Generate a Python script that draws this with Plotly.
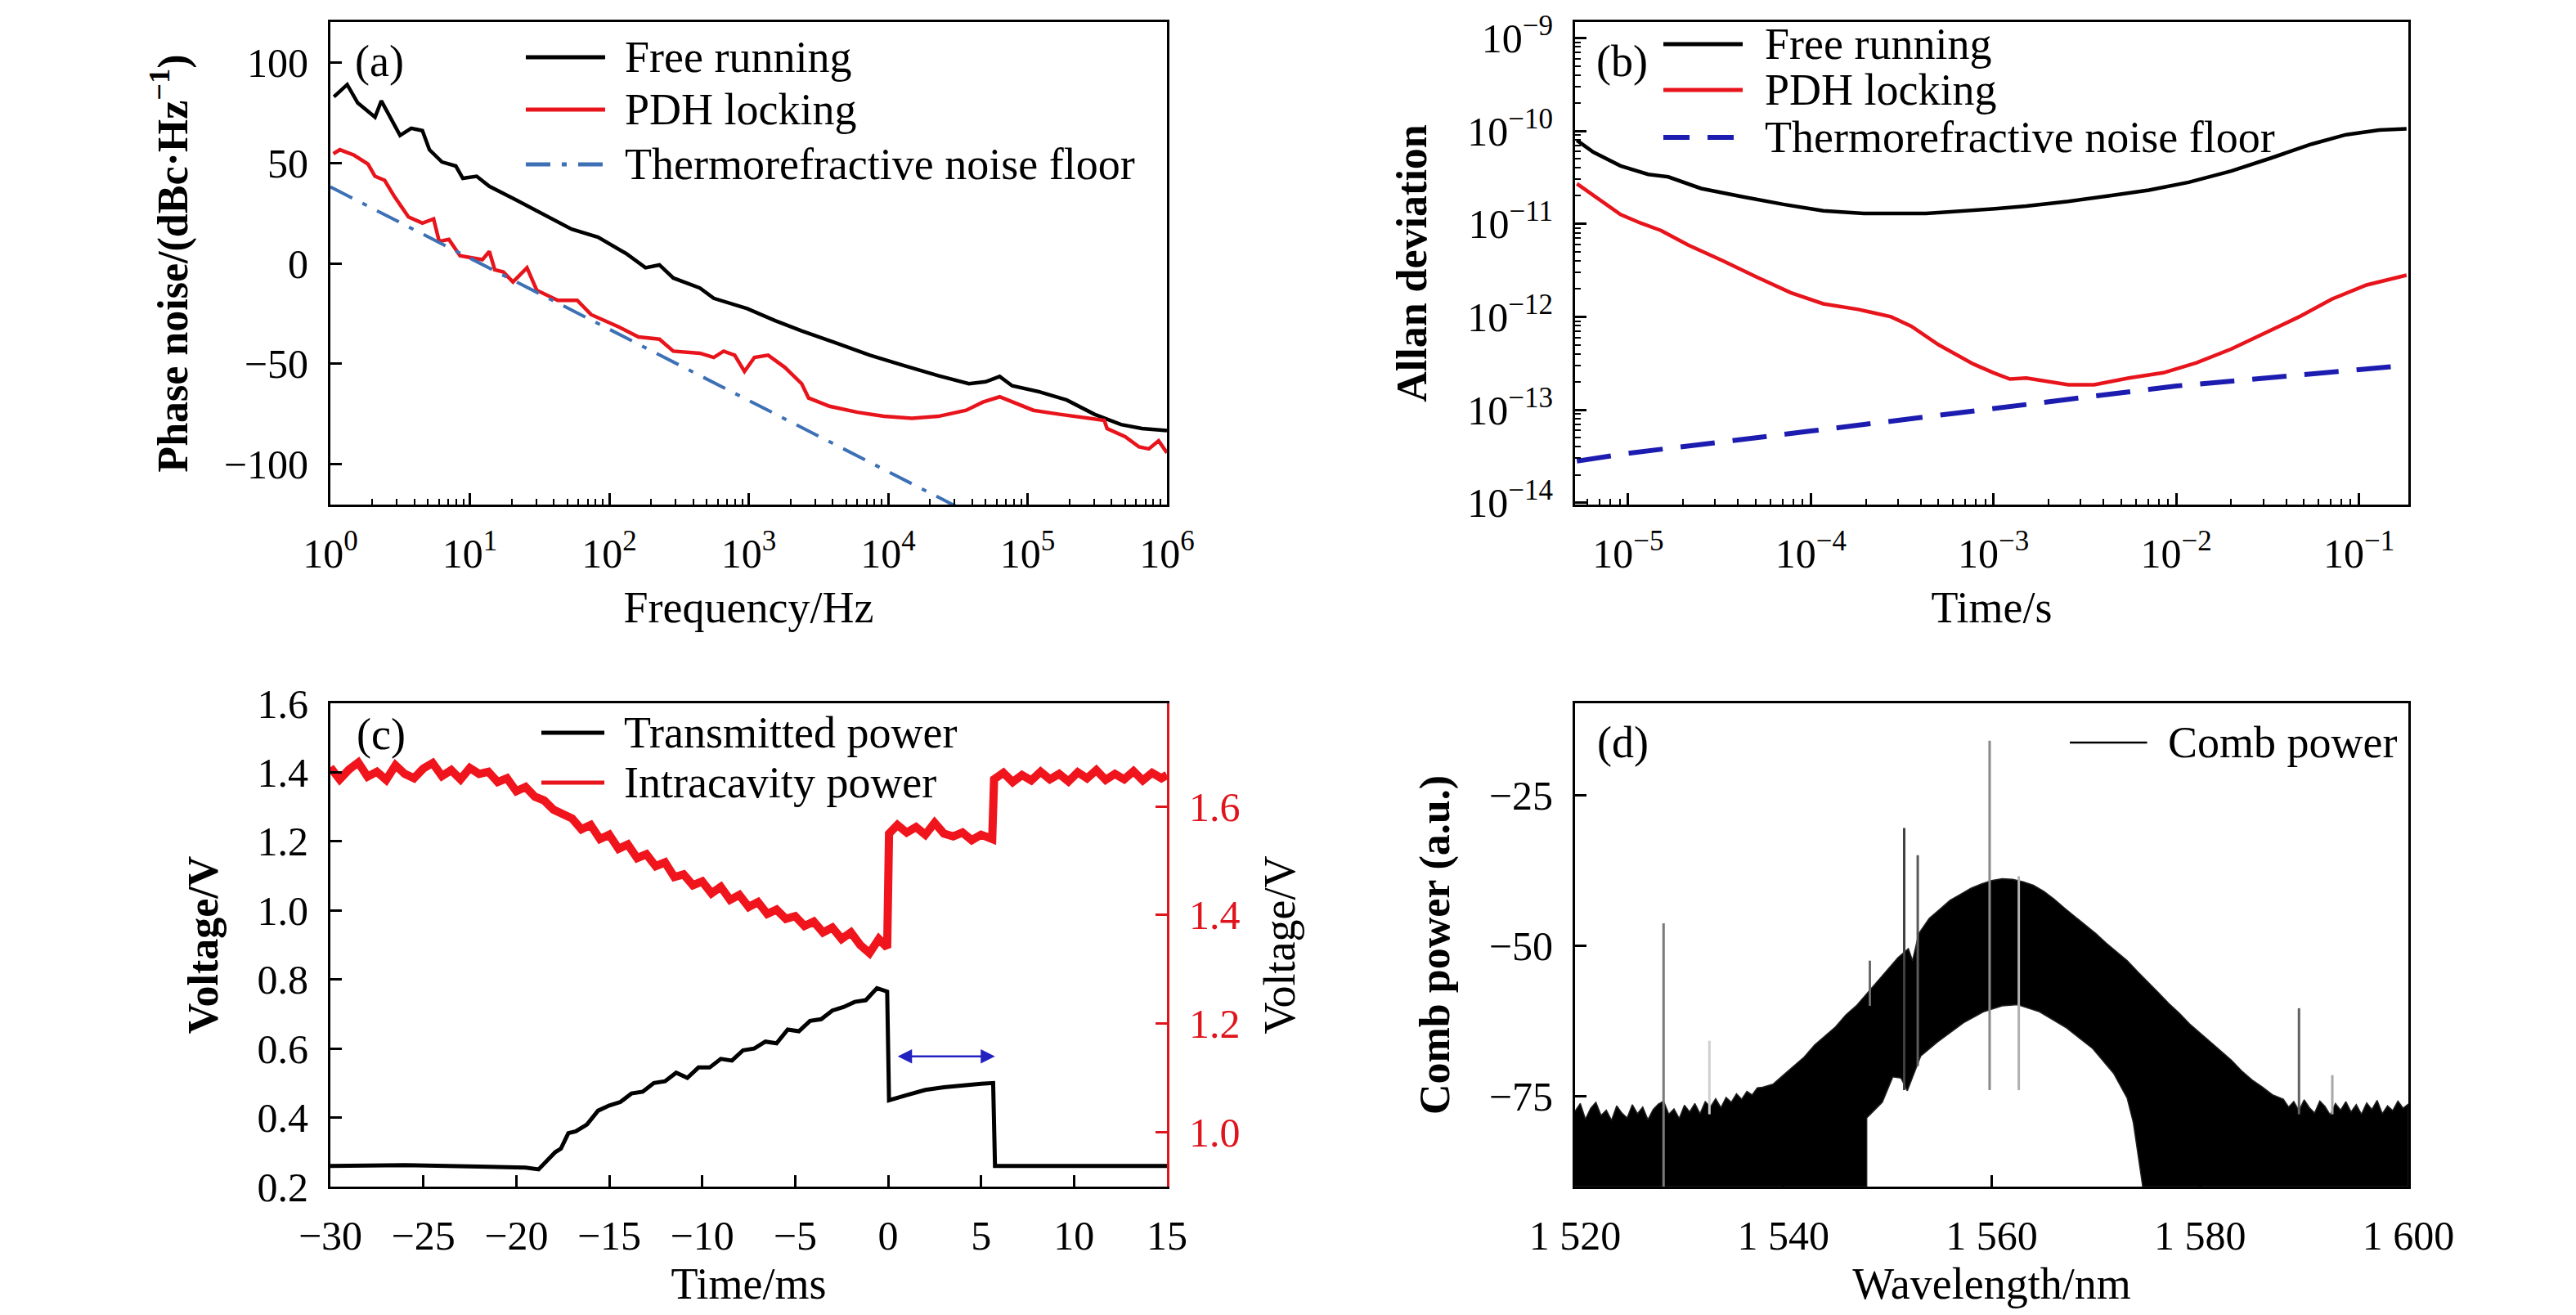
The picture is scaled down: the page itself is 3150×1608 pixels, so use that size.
import plotly.graph_objects as go

FONT = 'Liberation Serif'
W, H = 3134, 1592          # page body adds an 8 px margin around the figure

# ---------------- (a) phase noise ----------------
freq_free = [1.06, 1.32, 1.57, 2.09, 2.32, 2.75, 3.16, 3.80, 4.57, 5.13, 6.31, 7.94, 8.91,
             11.2, 13.8, 21.9, 33.9, 53.7, 83.2, 105, 132, 182, 229, 288, 447, 562, 977,
             1550, 2400, 4270, 7410, 12900, 22900, 38000, 50100, 63100, 77600, 123000,
             191000, 302000, 468000, 661000, 1000000]
pn_free = [82.8, 88.9, 79.8, 72.7, 80.8, 71.7, 63.6, 67.2, 66.0, 56.5, 50.4, 48.4, 42.3,
           43.3, 38.3, 31.2, 24.1, 17.0, 13.0, 8.9, 4.9, -2.2, -0.8, -7.3, -12.3, -17.4,
           -22.5, -28.5, -33.6, -39.7, -45.7, -50.8, -55.9, -59.9, -58.9, -56.3, -60.9,
           -64.0, -68.0, -75.1, -80.2, -82.2, -83.2]

freq_pdh = [1.05, 1.17, 1.48, 1.86, 2.09, 2.45, 2.88, 3.63, 4.57, 5.50, 6.03, 7.08, 8.51,
            10.5, 12.3, 13.8, 15.1, 17.4, 20.4, 25.7, 30.2, 42.7, 58.9, 74.1, 117, 162,
            229, 288, 447, 562, 661, 794, 933, 1100, 1380, 1820, 2400, 2690, 3800, 6030,
            9330, 14800, 22900, 36300, 47900, 63100, 77600, 110000, 170000, 269000,
            355000, 372000, 501000, 631000, 741000, 871000, 1000000]
pn_pdh = [54.5, 56.5, 53.8, 49.4, 43.3, 41.3, 33.2, 23.1, 20.0, 22.1, 10.9, 11.9, 3.8,
          2.8, 1.8, 5.9, -3.2, -4.3, -9.3, -2.2, -13.4, -18.4, -18.4, -25.5, -31.6, -36.6,
          -37.7, -43.7, -44.7, -46.8, -43.7, -45.7, -53.8, -46.8, -45.7, -51.8, -59.9,
          -67.0, -71.1, -74.1, -76.1, -77.1, -76.1, -73.1, -69.0, -66.4, -69.0, -73.1,
          -75.1, -77.1, -78.1, -82.2, -86.2, -91.3, -92.3, -88.3, -94.3]

freq_trn = [1, 10, 100, 1000, 10000, 100000]
pn_trn = [38.0, 2.6, -32.8, -68.2, -103.6, -139.0]

# ---------------- (b) Allan deviation ----------------
tau_free = [5.25e-6, 6.46e-6, 9.1e-6, 1.29e-5, 1.66e-5, 2.51e-5, 4.27e-5, 7.08e-5, 1.17e-4,
            1.95e-4, 4.27e-4, 6.46e-4, 1.02e-3, 1.51e-3, 2.57e-3, 4.27e-3, 7.08e-3,
            1.17e-2, 2.0e-2, 3.3e-2, 5.5e-2, 8.5e-2, 0.129, 0.182]
adev_free = [7.9e-11, 5.9e-11, 4.2e-11, 3.4e-11, 3.2e-11, 2.4e-11, 1.95e-11, 1.62e-11,
             1.38e-11, 1.29e-11, 1.29e-11, 1.35e-11, 1.45e-11, 1.55e-11, 1.74e-11, 2.0e-11,
             2.3e-11, 2.8e-11, 3.7e-11, 5.1e-11, 7.2e-11, 9.1e-11, 1.02e-10, 1.05e-10]

tau_pdh = [5.25e-6, 7.08e-6, 9.1e-6, 1.17e-5, 1.51e-5, 2.14e-5, 3.31e-5, 5.0e-5, 7.76e-5,
           1.17e-4, 1.82e-4, 2.75e-4, 3.55e-4, 5.0e-4, 7.76e-4, 1.0e-3, 1.23e-3, 1.51e-3,
           2.0e-3, 2.57e-3, 3.55e-3, 5.5e-3, 8.5e-3, 1.29e-2, 2.0e-2, 3.0e-2, 4.7e-2,
           7.1e-2, 0.11, 0.182]
adev_pdh = [2.7e-11, 1.78e-11, 1.26e-11, 1.02e-11, 8.5e-12, 5.9e-12, 4.0e-12, 2.7e-12,
            1.82e-12, 1.38e-12, 1.2e-12, 1.0e-12, 7.9e-13, 5.0e-13, 3.1e-13, 2.5e-13,
            2.14e-13, 2.19e-13, 2.0e-13, 1.86e-13, 1.86e-13, 2.19e-13, 2.5e-13, 3.2e-13,
            4.5e-13, 6.6e-13, 1.0e-12, 1.55e-12, 2.2e-12, 2.8e-12]

tau_trn = [5.25e-6, 1e-5, 1e-4, 1e-3, 1e-2, 0.182]
adev_trn = [2.8e-14, 3.4e-14, 5.9e-14, 1.02e-13, 1.8e-13, 3.0e-13]

# ---------------- (c) transmitted / intracavity power ----------------
t_trans = [-30, -26, -22, -19.5, -18.8, -18.3, -17.9, -17.6, -17.2, -16.8, -16.2, -15.6,
           -15.0, -14.4, -13.8, -13.2, -12.6, -12.0, -11.4, -10.8, -10.2, -9.6, -9.0, -8.4,
           -7.8, -7.2, -6.6, -6.0, -5.4, -4.8, -4.2, -3.6, -3.0, -2.4, -1.8, -1.2, -0.6,
           -0.05, 0.05, 1.0, 2.0, 3.0, 4.0, 5.0, 5.65, 5.75, 10, 15]
v_trans = [0.26, 0.262, 0.258, 0.255, 0.25, 0.28, 0.30, 0.31, 0.355, 0.36, 0.38, 0.42,
           0.435, 0.445, 0.47, 0.475, 0.50, 0.505, 0.53, 0.515, 0.545, 0.545, 0.57, 0.565,
           0.595, 0.60, 0.62, 0.615, 0.655, 0.65, 0.68, 0.685, 0.71, 0.72, 0.735, 0.74,
           0.775, 0.765, 0.45, 0.465, 0.48, 0.488, 0.494, 0.498, 0.50, 0.26, 0.26, 0.26]

t_intra = [-30, -29.5, -29, -28.5, -28, -27.5, -27, -26.5, -26, -25.5, -25, -24.5, -24,
           -23.5, -23, -22.5, -22, -21.5, -21, -20.5, -20, -19.5, -19, -18.5, -18, -17.5,
           -17, -16.5, -16, -15.5, -15, -14.5, -14, -13.5, -13, -12.5, -12, -11.5, -11,
           -10.5, -10, -9.5, -9, -8.5, -8, -7.5, -7, -6.5, -6, -5.5, -5, -4.5, -4, -3.5,
           -3, -2.5, -2, -1.5, -1, -0.5, -0.05, 0.05, 0.5, 1, 1.5, 2, 2.5, 3, 3.5, 4, 4.5,
           5, 5.6, 5.7, 6.2, 6.7, 7.2, 7.7, 8.2, 8.7, 9.2, 9.7, 10.2, 10.7, 11.2, 11.7,
           12.2, 12.7, 13.2, 13.7, 14.2, 14.7, 15]
v_intra = [1.672, 1.650, 1.668, 1.681, 1.655, 1.664, 1.649, 1.676, 1.660, 1.652, 1.670,
           1.680, 1.656, 1.667, 1.650, 1.671, 1.660, 1.664, 1.645, 1.652, 1.628, 1.636,
           1.618, 1.611, 1.594, 1.586, 1.578, 1.558, 1.566, 1.540, 1.548, 1.522, 1.530,
           1.505, 1.512, 1.490, 1.497, 1.470, 1.475, 1.455, 1.462, 1.440, 1.452, 1.428,
           1.437, 1.415, 1.424, 1.402, 1.410, 1.393, 1.398, 1.380, 1.388, 1.368, 1.377,
           1.356, 1.368, 1.345, 1.330, 1.356, 1.340, 1.550, 1.566, 1.552, 1.562, 1.548,
           1.570, 1.550, 1.545, 1.552, 1.538, 1.548, 1.540, 1.650, 1.662, 1.645, 1.658,
           1.648, 1.664, 1.650, 1.660, 1.646, 1.663, 1.652, 1.667, 1.649, 1.660, 1.650,
           1.665, 1.648, 1.662, 1.652, 1.658]

arrow_t = [0.45, 5.75]
arrow_v = 0.577

# ---------------- (d) comb spectrum ----------------
wl_top = [1520, 1520.5, 1521, 1521.5, 1522, 1522.5, 1523, 1523.5, 1524, 1524.5, 1525,
          1525.5, 1526, 1526.5, 1527, 1527.5, 1528, 1528.5, 1529, 1529.5, 1530, 1530.5,
          1531, 1531.5, 1532, 1532.5, 1533, 1533.5, 1534, 1534.5, 1535, 1535.5, 1536,
          1536.5, 1537, 1537.5, 1538, 1539, 1540, 1541, 1542, 1543, 1544, 1545, 1546,
          1547, 1548, 1549, 1550, 1551, 1552, 1552.4, 1553, 1554, 1555, 1556, 1557, 1558,
          1559, 1560, 1561, 1562, 1563, 1564, 1565, 1566, 1567, 1568, 1569, 1570, 1571,
          1572, 1573, 1574, 1575, 1576, 1577, 1578, 1579, 1580, 1581, 1582, 1583, 1584,
          1585, 1586, 1587, 1588, 1588.5, 1589, 1589.5, 1590, 1590.5, 1591, 1591.5, 1592,
          1592.5, 1593, 1593.5, 1594, 1594.5, 1595, 1595.5, 1596, 1596.5, 1597, 1597.5,
          1598, 1598.5, 1599, 1599.5, 1600]
p_top = [-77.5, -76.2, -78.8, -77.0, -76.0, -78.2, -77.3, -79.0, -76.6, -77.8, -78.6,
         -76.4, -77.9, -76.8, -78.9, -77.2, -76.3, -75.8, -78.0, -77.1, -78.7, -76.5, -77.6,
         -76.2, -77.9, -75.9, -76.8, -75.4, -76.9, -75.2, -76.0, -74.6, -75.5, -74.2, -74.8,
         -73.6, -73.5, -73, -71.5, -70, -68.5, -66.5, -65, -63.5, -61.5, -60, -58, -56,
         -54, -52, -50.5, -52.5, -48, -45.5, -44, -42.5, -41.5, -40.5, -39.8, -39.2, -38.9,
         -39, -39.4, -40, -41, -42.3, -43.8, -45.2, -46.6, -48, -49.6, -51, -52.5, -54.3,
         -56, -57.8, -59.6, -61.2, -63, -64.5, -66, -67.6, -69, -70.8, -72.3, -73.5, -74.8,
         -75.5, -76.8, -75.9, -77.4, -75.6, -76.9, -77.8, -75.8, -76.7, -78.1, -76.2, -77.3,
         -75.9, -77.6, -76.4, -78.0, -76.1, -77.2, -75.7, -77.9, -76.6, -77.4, -75.8, -77.0,
         -76.3]

# upper edge of the empty region under the comb, left to right
wl_hole = [1548.0, 1548.0, 1549.5, 1550.5, 1551.3, 1551.9, 1553.2, 1554.8, 1557.3, 1559.2,
           1561.0, 1562.5, 1564.6, 1567.2, 1569.7, 1571.7, 1573.0, 1573.6, 1574.5]
p_hole = [-90, -78.6, -76, -71.8, -72, -74.1, -68.3, -66, -62.8, -61, -60, -59.8, -61,
          -63.7, -67.1, -71.2, -75.3, -79.4, -90]

spike_wl = [1528.5, 1532.9, 1548.3, 1551.6, 1552.9, 1559.8, 1562.6, 1589.5, 1592.7]
spike_top = [-46.3, -65.8, -52.5, -30.5, -35.0, -16.0, -38.5, -60.4, -71.5]
spike_bottom = [-90, -78, -60, -74, -70, -74, -74, -78, -78]
spike_color = ['#7a7a7a', '#d0d0d0', '#6a6a6a', '#404040', '#5a5a5a', '#8a8a8a',
               '#b0b0b0', '#606060', '#a8a8a8']

RED = '#e8141c'


def px_x(px):
    return (px - 8) / W


def px_y(py):
    return 1 - (py - 8) / H


tick_font = dict(family=FONT, size=50, color='black')
title_font = dict(family=FONT, size=54, color='black')
bold_font = dict(family=FONT, size=52, color='black')


def frame_axis(**kw):
    base = dict(showline=True, linecolor='black', linewidth=3, mirror=True,
                ticks='inside', ticklen=14, tickwidth=3, tickcolor='black',
                showgrid=False, zeroline=False, tickfont=tick_font, automargin=False,
                ticklabelstandoff=14)
    base.update(kw)
    return base


def decade_minors(lo, hi):
    return [m * 10.0 ** k for k in range(lo, hi) for m in range(2, 10)]


def sup(v):
    return '10<sup>' + str(v).replace('-', '\u2212') + '</sup>'


fig = go.Figure()

# (a)
fig.add_trace(go.Scatter(x=freq_free, y=pn_free, mode='lines', name='Free running',
                         line=dict(color='black', width=4.5), xaxis='x', yaxis='y'))
fig.add_trace(go.Scatter(x=freq_pdh, y=pn_pdh, mode='lines', name='PDH locking',
                         line=dict(color=RED, width=4.5), xaxis='x', yaxis='y'))
fig.add_trace(go.Scatter(x=freq_trn, y=pn_trn, mode='lines', name='Thermorefractive noise floor',
                         line=dict(color='#3d70b5', width=4, dash='30px,14px,6px,14px'),
                         xaxis='x', yaxis='y'))

# (b)
fig.add_trace(go.Scatter(x=tau_free, y=adev_free, mode='lines', name='Free running',
                         line=dict(color='black', width=4.5), xaxis='x2', yaxis='y2'))
fig.add_trace(go.Scatter(x=tau_pdh, y=adev_pdh, mode='lines', name='PDH locking',
                         line=dict(color=RED, width=4.5), xaxis='x2', yaxis='y2'))
fig.add_trace(go.Scatter(x=tau_trn, y=adev_trn, mode='lines', name='Thermorefractive noise floor',
                         line=dict(color='#1c1cb0', width=6, dash='42px,22px'),
                         xaxis='x2', yaxis='y2'))

# (c)
fig.add_trace(go.Scatter(x=t_trans, y=v_trans, mode='lines', name='Transmitted power',
                         line=dict(color='black', width=5), xaxis='x3', yaxis='y3'))
fig.add_trace(go.Scatter(x=t_intra, y=v_intra, mode='lines', name='Intracavity power',
                         line=dict(color='#f0141c', width=10), xaxis='x3', yaxis='y5'))

# (d)
band_x = wl_top + [1600] + wl_hole[::-1] + [1520]
band_y = p_top + [-90] + p_hole[::-1] + [-90]
fig.add_trace(go.Scatter(x=band_x, y=band_y, mode='lines', fill='toself',
                         fillcolor='black', line=dict(color='#202020', width=1.5),
                         name='Comb power', xaxis='x4', yaxis='y4'))
for wl, top, bot, col in zip(spike_wl, spike_top, spike_bottom, spike_color):
    fig.add_trace(go.Scatter(x=[wl, wl], y=[bot, top], mode='lines',
                             line=dict(color=col, width=3), xaxis='x4', yaxis='y4'))

a_dom_x = [px_x(404), px_x(1427)]
b_dom_x = [px_x(1926), px_x(2945)]
top_dom_y = [px_y(617), px_y(27)]
bot_dom_y = [px_y(1451), px_y(860)]

fig.update_layout(
    width=W, height=H,
    margin=dict(l=0, r=0, t=0, b=0),
    paper_bgcolor='white', plot_bgcolor='white',
    showlegend=False,
    font=dict(family=FONT, color='black'),
    xaxis=frame_axis(domain=a_dom_x, anchor='y', type='log', range=[0, 6],
                     tickvals=[10 ** k for k in range(7)],
                     ticktext=[sup(k) for k in range(7)],
                     minor=dict(ticks='inside', ticklen=7, tickwidth=2, tickcolor='black',
                                tickvals=decade_minors(0, 6)),
                     title=dict(text='Frequency/Hz', font=title_font, standoff=20)),
    yaxis=frame_axis(domain=top_dom_y, anchor='x', range=[-120, 120],
                     tickvals=[-100, -50, 0, 50, 100],
                     title=dict(text='<b>Phase noise/(dBc·Hz<sup>\u22121</sup>)</b>',
                                font=bold_font, standoff=28)),
    xaxis2=frame_axis(domain=b_dom_x, anchor='y2', type='log', range=[-5.29, -0.73],
                      tickvals=[10.0 ** k for k in range(-5, 0)],
                      ticktext=[sup(k) for k in range(-5, 0)],
                      minor=dict(ticks='inside', ticklen=7, tickwidth=2, tickcolor='black',
                                 tickvals=decade_minors(-6, 0)),
                      title=dict(text='Time/s', font=title_font, standoff=20)),
    yaxis2=frame_axis(domain=top_dom_y, anchor='x2', type='log', range=[-14.02, -8.83],
                      tickvals=[10.0 ** k for k in range(-14, -8)],
                      ticktext=[sup(k) for k in range(-14, -8)],
                      minor=dict(ticks='inside', ticklen=7, tickwidth=2, tickcolor='black',
                                 tickvals=decade_minors(-15, -8)),
                      title=dict(text='<b>Allan deviation</b>', font=bold_font, standoff=34)),
    xaxis3=frame_axis(domain=a_dom_x, anchor='y3', range=[-30, 15], dtick=5,
                      title=dict(text='Time/ms', font=title_font, standoff=22)),
    yaxis3=frame_axis(domain=bot_dom_y, anchor='x3', range=[0.2, 1.6], dtick=0.2,
                      tickformat='.1f', mirror=False,
                      title=dict(text='<b>Voltage/V</b>', font=bold_font, standoff=32)),
    yaxis5=frame_axis(domain=bot_dom_y, anchor='x3', overlaying='y3', side='right',
                      range=[0.90, 1.79], tickvals=[1.0, 1.2, 1.4, 1.6], tickformat='.1f',
                      mirror=False, linecolor='#e0141c', tickcolor='#e0141c',
                      tickfont=dict(family=FONT, size=50, color='#e0141c'),
                      title=dict(text='Voltage/V', font=title_font, standoff=30)),
    xaxis4=frame_axis(domain=b_dom_x, anchor='y4', range=[1520, 1600],
                      tickvals=[1520, 1540, 1560, 1580, 1600],
                      ticktext=['1 520', '1 540', '1 560', '1 580', '1 600'],
                      title=dict(text='Wavelength/nm', font=title_font, standoff=22)),
    yaxis4=frame_axis(domain=bot_dom_y, anchor='x4', range=[-90, -9.8],
                      tickvals=[-75, -50, -25],
                      title=dict(text='<b>Comb power (a.u.)</b>', font=bold_font, standoff=32)),
)

# legends drawn by hand so the sample lines keep the long look of the original
legends = [
    ('x', 'y', 0.2336, 0.3284, 0.350, [
        (0.9271, 'Free running', 'black', 'solid', 5),
        (0.8186, 'PDH locking', RED, 'solid', 5),
        (0.7051, 'Thermorefractive noise floor', '#3d70b5', '30px,14px,6px,14px', 5)]),
    ('x2', 'y2', 0.106, 0.2012, 0.2257, [
        (0.9542, 'Free running', 'black', 'solid', 5),
        (0.8593, 'PDH locking', RED, 'solid', 5),
        (0.7610, 'Thermorefractive noise floor', '#1c1cb0', '32px,22px', 6)]),
    ('x3', 'y3', 0.2522, 0.3275, 0.349, [
        (0.9391, 'Transmitted power', 'black', 'solid', 5),
        (0.8359, 'Intracavity power', RED, 'solid', 5)]),
    ('x4', 'y4', 0.5938, 0.6865, 0.710, [
        (0.9188, 'Comb power', 'black', 'solid', 2.5)]),
]
for xa, ya, x0, x1, xt, rows in legends:
    for yy, label, col, dash, lw in rows:
        fig.add_shape(type='line', xref=xa + ' domain', yref=ya + ' domain',
                      x0=x0, x1=x1, y0=yy, y1=yy, line=dict(color=col, width=lw, dash=dash))
        fig.add_annotation(text=label, xref=xa + ' domain', yref=ya + ' domain',
                           x=xt, y=yy, xanchor='left', yanchor='middle', showarrow=False,
                           font=title_font)

# panel letters
for lbl, xa, ya, lx, ly in [('(a)', 'x', 'y', 0.027, 0.919), ('(b)', 'x2', 'y2', 0.024, 0.919),
                            ('(c)', 'x3', 'y3', 0.029, 0.936), ('(d)', 'x4', 'y4', 0.025, 0.919)]:
    fig.add_annotation(text=lbl, xref=xa + ' domain', yref=ya + ' domain', x=lx, y=ly,
                       xanchor='left', yanchor='middle', showarrow=False, font=title_font)

# two-headed arrow marking the locked interval in (c)
fig.add_annotation(xref='x3', yref='y3', axref='x3', ayref='y3',
                   x=arrow_t[1], y=arrow_v, ax=arrow_t[0], ay=arrow_v, text='',
                   showarrow=True, arrowhead=2, startarrowhead=2, arrowside='end+start',
                   arrowsize=1.4, startarrowsize=1.4, arrowwidth=2.5, arrowcolor='#2222c0')

fig.write_html("out.html")
